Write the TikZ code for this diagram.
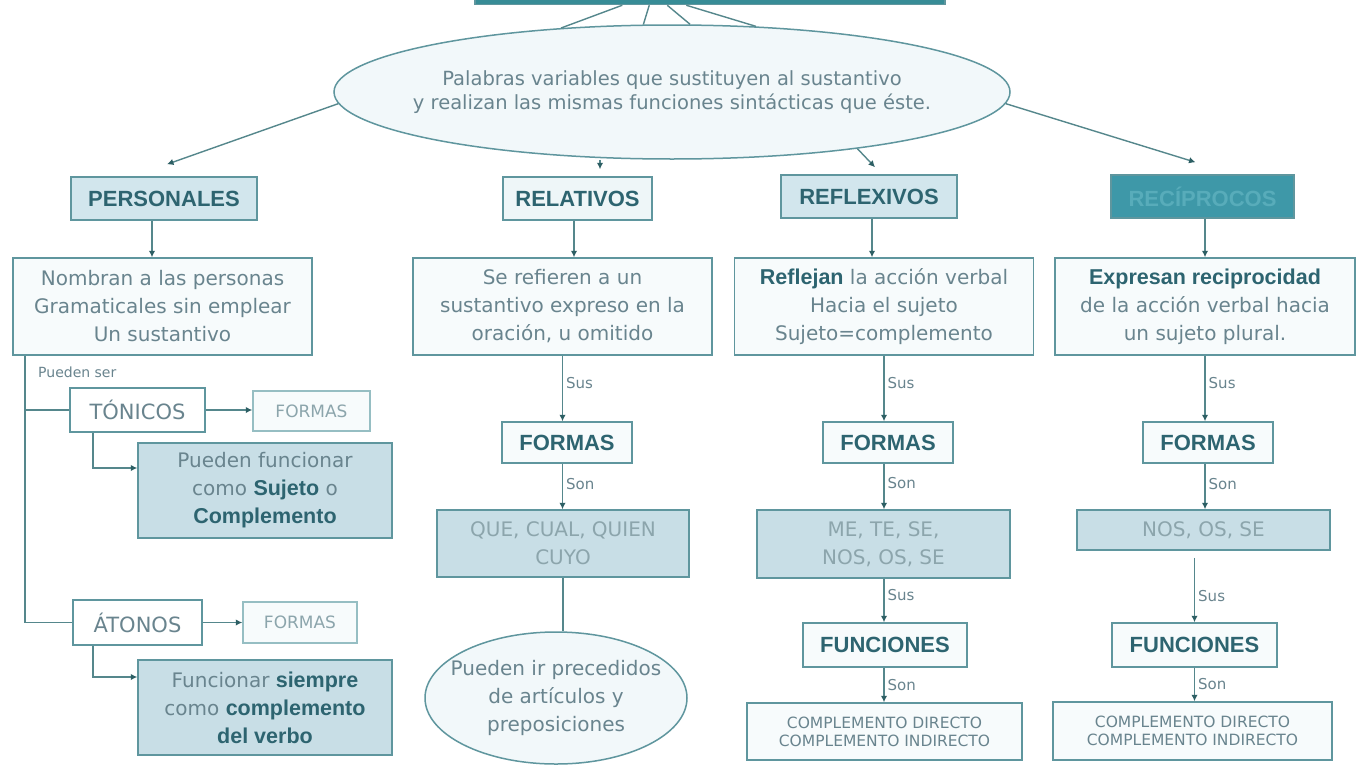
\documentclass[tikz,border=0pt]{standalone}
\usepackage{fontspec}
\setmainfont{DejaVu Sans}
\newfontfamily\hbfont{Liberation Sans}
\usetikzlibrary{calc,arrows.meta,shapes.geometric}
\definecolor{lnc}{RGB}{85,135,140}
\definecolor{tipc}{RGB}{45,95,100}
\definecolor{boxc}{RGB}{95,150,158}
\definecolor{lightbc}{RGB}{150,190,195}
\definecolor{txtc}{RGB}{105,132,142}
\definecolor{lighttxt}{RGB}{140,165,172}
\definecolor{boldc}{RGB}{45,100,112}
\definecolor{descf}{RGB}{247,251,252}
\definecolor{headf}{RGB}{210,230,237}
\definecolor{relf}{RGB}{238,246,248}
\definecolor{midf}{RGB}{200,222,230}
\definecolor{ellf}{RGB}{242,248,250}
\definecolor{recif}{RGB}{62,152,168}
\definecolor{recit}{RGB}{88,172,186}
\definecolor{titlef}{RGB}{55,140,150}
\newcommand\hb[1]{{\hbfont\bfseries\fontsize{21.5}{28}\selectfont\color{boldc}#1}}
\begin{document}
\begin{tikzpicture}[x=1pt,y=-1pt,
  every node/.style={inner sep=0pt, align=center},
  reg/.style={font={\fontsize{20}{28}\selectfont}, text=txtc},
  box/.style={draw=boxc, line width=1.5pt, rectangle},
  head/.style={box, font={\hbfont\bfseries\fontsize{22}{26}\selectfont}, text=boldc, minimum height=43pt},
  desc/.style={box, fill=descf, reg, minimum width=299pt, minimum height=97pt},
  forma/.style={box, fill=descf, font={\hbfont\bfseries\fontsize{22}{26}\selectfont}, text=boldc, minimum width=130pt, minimum height=41pt},
  valbox/.style={box, fill=midf, reg, text=lighttxt},
  comp/.style={box, fill=descf, font={\fontsize{15.5}{18}\selectfont}, text=txtc, minimum height=57pt},
  smallbox/.style={draw=lightbc, line width=1.5pt, fill=descf, font={\fontsize{17}{20}\selectfont}, text=lighttxt},
  ovalbox/.style={draw=boxc, line width=1.5pt, ellipse, fill=ellf},
  ln/.style={draw=lnc, line width=1.4pt},
  arr/.style={ln, -{Latex[length=6.5pt,width=6.5pt,color=tipc]}},
  lab/.style={right, inner sep=3pt, font={\fontsize{15}{16}\selectfont}, text=txtc}
]
\fill[white] (0,0) rectangle (1356,771);
\useasboundingbox (0,0) rectangle (1356,771);

% top
\node[box, fill=titlef, minimum width=470pt, minimum height=25pt] (title) at (710,-8) {};
\node[ovalbox, inner xsep=-60pt, minimum width=676pt, minimum height=134pt,
      font={\fontsize{19.5}{24}\selectfont}, text=txtc] (ell) at (672,92)
  {Palabras variables que sustituyen al sustantivo\\y realizan las mismas funciones sintácticas que éste.};

\draw[ln] ($(title.south west)+(148,0)$) -- (ell.150);
\draw[ln] ($(title.south west)+(175,0)$) -- (ell.113);
\draw[ln] ($(title.south west)+(193,0)$) -- (ell.75);
\draw[ln] ($(title.south west)+(212,0)$) -- (ell.38);

% row 1
\node[head, fill=headf, minimum width=186pt] (pers) at (164,198.5) {PERSONALES};
\node[head, fill=relf, minimum width=149pt] (rel) at (577.5,198.5) {RELATIVOS};
\node[head, fill=headf, minimum width=176pt] (refl) at (869,196.5) {REFLEXIVOS};
\node[head, fill=recif, text=recit, minimum width=183pt] (reci) at (1202.5,196.5) {RECÍPROCOS};

\draw[arr] (ell.182) -- ($(pers.north)+(3,-12)$);
\draw[arr] (ell.south -| rel.north) ++(22.5,0) -- ($(rel.north)+(22.5,-7)$);
\draw[arr] (ell.343) -- ($(refl.north)+(6,-7)$);
\draw[arr] (ell.358) -- ($(reci.north)+(-7,-12)$);

% row 2
\node[desc] (dpers) at (162.5,306.5) {Nombran a las personas\\Gramaticales sin emplear\\Un sustantivo};
\node[desc] (drel) at (562.5,306.5) {Se refieren a un\\sustantivo expreso en la\\oración, u omitido};
\node[desc] (drefl) at (884,306.5) {\hb{Reflejan} la acción verbal\\Hacia el sujeto\\Sujeto=complemento};
\node[desc, minimum width=300pt] (dreci) at (1205,306.5) {\hb{Expresan reciprocidad}\\de la acción verbal hacia\\un sujeto plural.};

\draw[arr] ($(pers.south)+(-12,0)$) -- ($(dpers.north)+(-10.5,0)$);
\draw[arr] ($(rel.south)+(-3.5,0)$) -- ($(drel.north)+(11.5,0)$);
\draw[arr] ($(refl.south)+(3,0)$) -- ($(drefl.north)+(-12,0)$);
\draw[arr] ($(reci.south)+(2.5,0)$) -- (dreci.north);

% relativos column
\node[forma] (fr) at (567,442.5) {FORMAS};
\node[valbox, minimum width=252pt, minimum height=67pt] (que) at (563,543.5) {QUE, CUAL, QUIEN\\CUYO};
\node[ovalbox, reg, inner xsep=-30pt, minimum width=262pt, minimum height=132pt] (ell2) at (556,698)
  {Pueden ir precedidos\\de artículos y\\preposiciones};
\draw[arr] (drel.south) -- (fr.north -| drel.south) node[lab, pos=.42] {Sus};
\draw[arr] (fr.south -| drel.south) -- (que.north -| drel.south) node[lab, pos=.45] {Son};
\draw[ln] (que.south) -- (ell2.north -| que.south);

% reflexivos column
\node[forma] (frf) at (888,442.5) {FORMAS};
\node[valbox, minimum width=253pt, minimum height=68pt] (me) at (883.5,544) {ME, TE, SE,\\NOS, OS, SE};
\node[forma, minimum width=164pt, minimum height=44pt] (fnf) at (885,645) {FUNCIONES};
\node[comp, minimum width=275pt] (cmf) at (884.5,731.5) {COMPLEMENTO DIRECTO\\COMPLEMENTO INDIRECTO};
\draw[arr] (drefl.south) -- (frf.north -| drefl.south) node[lab, pos=.42] {Sus};
\draw[arr] (frf.south -| drefl.south) -- (me.north -| drefl.south) node[lab, pos=.43] {Son};
\draw[arr] (me.south -| drefl.south) -- (fnf.north -| drefl.south) node[lab, pos=.38] {Sus};
\draw[arr] (fnf.south -| drefl.south) -- (cmf.north -| drefl.south) node[lab, pos=.5] {Son};

% reciprocos column
\node[forma] (frc) at (1208,442.5) {FORMAS};
\node[valbox, minimum width=253pt, minimum height=40pt] (nos) at (1203.5,530) {NOS, OS, SE};
\node[forma, minimum width=165pt, minimum height=44pt] (fnc) at (1194.5,645) {FUNCIONES};
\node[comp, minimum width=279pt, minimum height=58pt] (cmc) at (1192.5,731) {COMPLEMENTO DIRECTO\\COMPLEMENTO INDIRECTO};
\draw[arr] (dreci.south) -- (frc.north -| dreci.south) node[lab, pos=.42] {Sus};
\draw[arr] (frc.south -| dreci.south) -- (nos.north -| dreci.south) node[lab, pos=.45] {Son};
\draw[arr] ($(nos.south -| fnc.north)+(0,7)$) -- (fnc.north) node[lab, pos=.6] {Sus};
\draw[arr] (fnc.south) -- (cmc.north -| fnc.south) node[lab, pos=.5] {Son};

% personales column
\node[anchor=west, font={\fontsize{14}{16}\selectfont}, text=txtc] (ps) at (38,372) {Pueden ser};
\node[box, fill=white, font={\fontsize{21}{24}\selectfont}, text=txtc, minimum width=135pt, minimum height=44pt] (ton) at (137.5,410) {TÓNICOS};
\node[smallbox, minimum width=117pt, minimum height=40pt] (ftn) at (311.5,411) {FORMAS};
\node[box, fill=midf, reg, minimum width=254pt, minimum height=95pt] (suj) at (265,490.5) {Pueden funcionar\\como \hb{Sujeto} o\\\hb{Complemento}};
\node[box, fill=white, font={\fontsize{21}{24}\selectfont}, text=txtc, minimum width=129pt, minimum height=45pt] (aton) at (137.5,622.5) {ÁTONOS};
\node[smallbox, minimum width=114pt, minimum height=41pt] (fat) at (300,622.5) {FORMAS};
\node[box, fill=midf, reg, minimum width=254pt, minimum height=95pt] (verb) at (265,707.5) {Funcionar \hb{siempre}\\como \hb{complemento}\\\hb{del verbo}};

\draw[ln] ($(dpers.south)+(-137.5,0)$) |- (aton.west);
\draw[ln] ($(ton.west)+(-45,0)$) -- (ton.west);
\draw[arr] (ton.east) -- (ftn.west |- ton.east);
\draw[arr] ($(ton.south)+(-44.5,0)$) |- ($(suj.west)+(0,-22.5)$);
\draw[arr] (aton.east) -- (fat.west |- aton.east);
\draw[arr] ($(aton.south)+(-44.5,0)$) |- ($(verb.west)+(0,-30.5)$);
\end{tikzpicture}
\end{document}
